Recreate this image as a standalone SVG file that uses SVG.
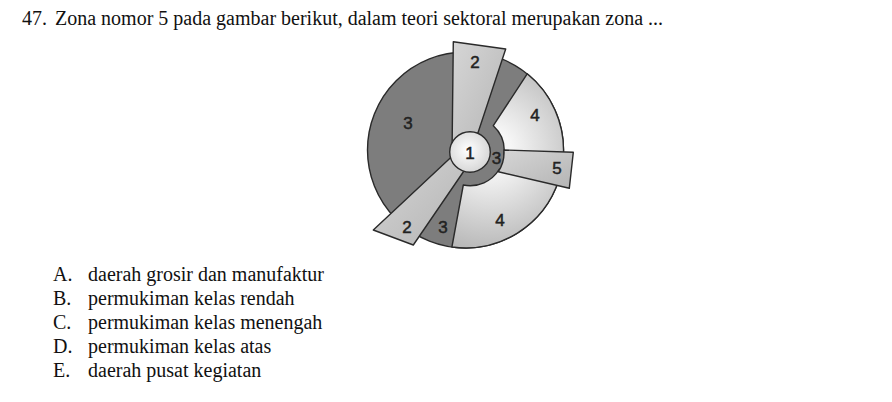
<svg xmlns="http://www.w3.org/2000/svg" width="892" height="402" viewBox="0 0 892 402">
<style>
.q{font-family:"Liberation Serif","Times New Roman",serif;font-size:20px;fill:#111}
.lbl{font-family:"Liberation Sans",Arial,sans-serif;font-size:17px;fill:#222;stroke:#222;stroke-width:0.5;text-anchor:middle;dominant-baseline:central}
.edge{stroke:#2a2a2a;stroke-width:1.4;stroke-linejoin:round}
.dark{fill:#7d7d7d}
.light{fill:url(#gLight)}
.strip{fill:url(#gStrip)}
</style>
<defs>
<radialGradient id="gLight" gradientUnits="userSpaceOnUse" cx="490" cy="150" r="100">
<stop offset="0.2" stop-color="#f7f7f7"/>
<stop offset="1" stop-color="#b9b9b9"/>
</radialGradient>
<linearGradient id="gStrip" x1="0" y1="0" x2="1" y2="1">
<stop offset="0" stop-color="#d6d6d6"/>
<stop offset="1" stop-color="#b4b4b4"/>
</linearGradient>
<radialGradient id="gCenter" cx="0.45" cy="0.45" r="0.6">
<stop offset="0" stop-color="#ffffff"/>
<stop offset="1" stop-color="#d4d4d4"/>
</radialGradient>
</defs>
<rect width="892" height="402" fill="#ffffff"/>
<text class="q" x="22" y="25">47.</text>
<text class="q" x="55" y="25">Zona nomor 5 pada gambar berikut, dalam teori sektoral merupakan zona ...</text>

<g id="zone-3-base"><circle class="dark edge" cx="465.5" cy="150" r="98"/></g>
<g id="zone-4-upper"><path class="light edge" d="M493.3,125.7 L527.2,73.8 A98 98 0 0 1 563.4,155.1 L503.9,155 A34 34 0 0 0 493.3,125.7 Z"/></g>
<g id="zone-4-lower"><path class="light edge" d="M499.4,169 L558.7,180.3 A98 98 0 0 1 451.9,247 L463.3,185 A34 34 0 0 0 499.4,169 Z"/></g>
<g id="zone-2-top"><polygon class="strip edge" points="453.3,41.7 505.7,49 475.6,140 452,156"/></g>
<g id="zone-2-lower"><polygon class="strip edge" points="373.3,230 413.3,245 466,168 457.7,151.1"/></g>
<g id="zone-5"><path class="strip edge" d="M503.9,150 L573.3,152.3 L569.3,188.3 L498.3,171.7 A34 34 0 0 0 503.9,150 Z"/></g>
<g id="zone-1"><circle class="edge" fill="url(#gCenter)" cx="470" cy="152" r="20.3"/></g>

<g id="labels">
<text class="lbl" x="475" y="62">2</text>
<text class="lbl" x="408" y="123">3</text>
<text class="lbl" x="535" y="115">4</text>
<text class="lbl" x="470" y="153">1</text>
<text class="lbl" x="496.5" y="158">3</text>
<text class="lbl" x="557" y="168">5</text>
<text class="lbl" x="500" y="220">4</text>
<text class="lbl" x="407" y="227">2</text>
<text class="lbl" x="443" y="227">3</text>
</g>

<g id="options">
<text class="q" x="53" y="281">A.</text><text class="q" x="88" y="281">daerah grosir dan manufaktur</text>
<text class="q" x="53" y="305">B.</text><text class="q" x="88" y="305">permukiman kelas rendah</text>
<text class="q" x="53" y="329">C.</text><text class="q" x="88" y="329">permukiman kelas menengah</text>
<text class="q" x="53" y="353">D.</text><text class="q" x="88" y="353">permukiman kelas atas</text>
<text class="q" x="53" y="377">E.</text><text class="q" x="88" y="377">daerah pusat kegiatan</text>
</g>
</svg>
